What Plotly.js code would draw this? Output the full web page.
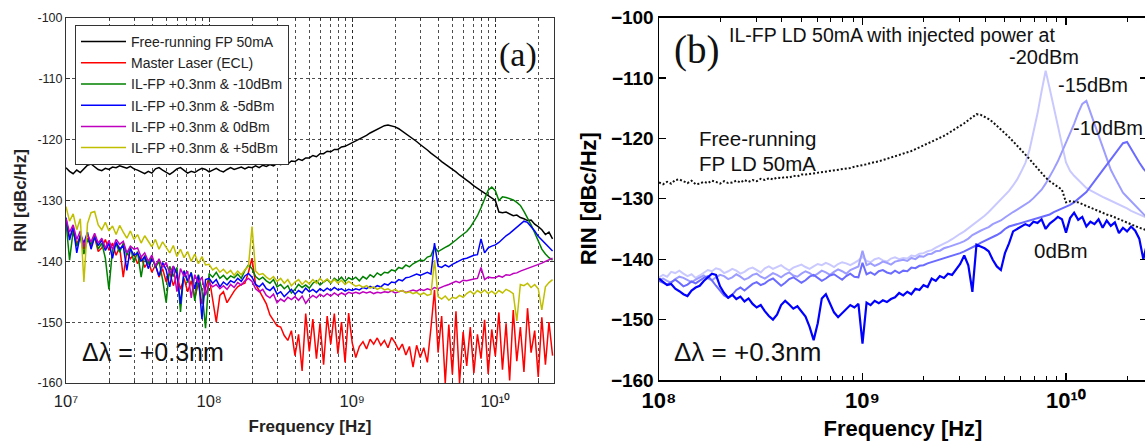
<!DOCTYPE html>
<html>
<head>
<meta charset="utf-8">
<script src="https://cdn.plot.ly/plotly-3.0.1.min.js"></script>
<style>
html,body{margin:0;padding:0;overflow:hidden;background:#ffffff;}
#chart{width:1150px;height:443px;}
</style>
</head>
<body>
<div id="chart"></div>
<script>
// ---------------- Panel (a) data ----------------
const freqA = [
1e7,1.059e7,1.122e7,1.189e7,1.259e7,1.334e7,1.413e7,1.496e7,1.585e7,1.679e7,1.778e7,1.884e7,1.995e7,2.113e7,2.239e7,2.371e7,2.512e7,2.661e7,2.818e7,2.985e7,3.162e7,3.350e7,3.548e7,3.758e7,3.981e7,4.217e7,4.467e7,4.732e7,5.012e7,5.309e7,5.623e7,5.957e7,6.310e7,6.683e7,7.079e7,7.499e7,7.943e7,8.414e7,8.913e7,9.441e7,
1e8,1.059e8,1.122e8,1.189e8,1.259e8,1.334e8,1.413e8,1.496e8,1.585e8,1.679e8,1.778e8,1.884e8,1.995e8,2.113e8,2.239e8,2.371e8,2.512e8,2.661e8,2.818e8,2.985e8,3.162e8,3.350e8,3.548e8,3.758e8,3.981e8,4.217e8,4.467e8,4.732e8,5.012e8,5.309e8,5.623e8,5.957e8,6.310e8,6.683e8,7.079e8,7.499e8,7.943e8,8.414e8,8.913e8,9.441e8,
1e9,1.059e9,1.122e9,1.189e9,1.259e9,1.334e9,1.413e9,1.496e9,1.585e9,1.679e9,1.778e9,1.884e9,1.995e9,2.113e9,2.239e9,2.371e9,2.512e9,2.661e9,2.818e9,2.985e9,3.162e9,3.350e9,3.548e9,3.758e9,3.981e9,4.217e9,4.467e9,4.732e9,5.012e9,5.309e9,5.623e9,5.957e9,6.310e9,6.683e9,7.079e9,7.499e9,7.943e9,8.414e9,8.913e9,9.441e9,
1e10,1.059e10,1.122e10,1.189e10,1.259e10,1.334e10,1.413e10,1.496e10,1.585e10,1.679e10,1.778e10,1.884e10,1.995e10,2.113e10,2.239e10,2.371e10,2.512e10
];
const rinFreeRunningA = [
-124.6,-125.2,-125.6,-125.0,-125.4,-124.8,-124.2,-124.0,-124.4,-124.9,
-125.1,-124.7,-124.9,-124.5,-124.6,-124.3,-124.5,-124.7,-124.4,-124.8,
-125.0,-125.3,-125.6,-125.2,-125.5,-124.8,-124.6,-125.0,-125.4,-125.7,
-125.3,-124.8,-124.6,-125.1,-125.5,-125.2,-125.4,-125.0,-124.7,-124.9,
-125.3,-125.0,-124.7,-125.1,-125.3,-124.9,-124.6,-124.9,-124.7,-124.5,
-124.8,-124.5,-124.6,-124.3,-124.6,-124.2,-124.4,-124.1,-124.3,-123.9,
-124.1,-123.8,-124.0,-123.5,-123.6,-123.2,-123.4,-123.0,-123.0,-122.6,
-122.8,-122.3,-122.3,-121.9,-122.0,-121.6,-121.6,-121.2,-121.1,-120.8,
-120.6,-120.2,-119.9,-119.6,-119.3,-118.9,-118.6,-118.3,-118.0,-117.7,
-117.6,-117.7,-117.9,-118.2,-118.6,-119.0,-119.4,-119.8,-120.3,-120.8,
-121.2,-121.7,-122.2,-122.6,-123.1,-123.6,-124.0,-124.5,-124.9,-125.3,
-125.8,-126.2,-126.7,-127.1,-127.6,-128.0,-128.4,-128.8,-129.3,-129.6,
-130.0,-131.9,-132.0,-131.9,-132.2,-132.5,-132.4,-132.8,-133.0,-133.3,
-133.2,-133.9,-134.3,-134.8,-135.6,-135.2,-136.3
];
const rinMasterEclA = [
-133.6,-136.0,-134.8,-137.2,-135.8,-138.0,-136.2,-137.6,-136.0,-138.4,
-137.8,-136.4,-138.2,-137.0,-139.0,-137.6,-142.6,-138.4,-139.6,-138.8,
-140.4,-139.2,-141.0,-140.0,-141.8,-140.6,-142.6,-141.2,-143.4,-141.8,
-144.0,-142.2,-144.6,-142.8,-145.0,-143.2,-146.0,-143.6,-147.0,-144.4,
-142.6,-146.4,-150.0,-145.6,-145.0,-146.8,-145.8,-144.9,-144.2,-143.8,
-143.6,-141.8,-139.5,-143.8,-144.8,-146.0,-147.0,-148.8,-149.8,-150.6,
-150.8,-152.2,-153.0,-151.4,-155.5,-152.0,-158.0,-148.6,-154.8,-149.5,
-156.0,-150.2,-157.0,-149.0,-153.6,-148.6,-155.2,-150.0,-156.6,-148.5,
-153.4,-155.8,-154.0,-153.2,-154.4,-152.8,-153.6,-152.6,-153.8,-153.0,
-154.2,-152.5,-153.4,-154.6,-153.6,-155.4,-154.0,-157.4,-153.8,-155.8,
-154.2,-156.6,-151.0,-144.7,-155.0,-149.0,-160.0,-150.4,-158.6,-148.2,
-160.0,-151.6,-157.2,-150.8,-158.4,-152.0,-156.0,-149.6,-158.5,-151.2,
-155.6,-148.4,-157.8,-150.2,-159.6,-148.0,-156.4,-150.8,-158.2,-147.7,
-155.0,-151.4,-159.0,-149.2,-157.0,-150.0,-155.5
];
const rinM10dBmA = [
-133.5,-139.8,-135.0,-137.5,-136.0,-138.8,-136.4,-137.2,-135.8,-138.0,
-137.0,-139.5,-144.6,-138.0,-137.2,-138.5,-137.0,-139.0,-137.6,-140.2,
-138.4,-142.6,-139.0,-140.5,-139.2,-141.0,-140.0,-143.0,-146.8,-140.8,
-142.5,-141.0,-148.3,-141.5,-143.5,-141.8,-146.5,-142.2,-144.8,-151.0,
-142.0,-142.6,-141.8,-142.8,-142.3,-143.0,-142.4,-142.7,-142.1,-142.8,
-141.5,-140.6,-141.2,-142.5,-143.0,-142.6,-143.2,-143.6,-143.0,-144.2,
-143.8,-144.5,-144.0,-145.2,-144.6,-143.8,-144.3,-143.9,-144.4,-143.6,
-143.2,-143.9,-143.4,-143.0,-143.6,-142.8,-143.2,-142.6,-143.3,-142.7,
-143.0,-142.6,-143.2,-142.5,-142.9,-142.2,-142.6,-141.9,-142.3,-141.8,
-141.9,-141.4,-141.6,-141.0,-141.2,-140.6,-140.9,-140.4,-140.1,-139.8,
-139.9,-139.3,-139.1,-137.6,-138.4,-138.0,-137.7,-137.4,-137.0,-136.5,
-136.0,-135.6,-135.1,-134.4,-133.5,-132.5,-131.2,-129.8,-128.3,-127.8,
-128.4,-130.0,-129.4,-129.5,-129.7,-129.9,-130.3,-130.8,-131.8,-132.8,
-134.0,-135.3,-136.8,-138.0,-138.8,-139.4,-139.8
];
const rinM5dBmA = [
-132.8,-136.5,-134.2,-138.6,-135.6,-137.0,-135.2,-138.0,-136.0,-137.4,
-136.5,-138.2,-137.0,-139.5,-136.8,-138.0,-137.4,-141.5,-137.9,-139.0,
-138.6,-140.0,-139.2,-141.2,-139.6,-140.6,-142.4,-140.2,-141.4,-144.2,
-140.8,-142.0,-147.0,-141.6,-143.2,-141.9,-144.5,-142.3,-149.5,-143.0,
-142.8,-143.6,-143.0,-144.2,-143.4,-143.9,-143.2,-143.5,-142.8,-143.3,
-142.4,-142.0,-142.6,-143.8,-144.2,-143.6,-144.5,-144.8,-144.2,-145.4,
-145.0,-145.8,-145.2,-144.6,-145.4,-144.8,-145.2,-144.4,-145.0,-144.6,
-145.1,-144.5,-144.9,-144.4,-144.8,-144.3,-144.7,-144.5,-144.9,-144.6,
-144.8,-144.5,-144.7,-144.3,-144.5,-144.1,-144.4,-144.0,-144.2,-143.7,
-143.9,-143.4,-143.5,-143.0,-143.2,-142.7,-142.6,-142.4,-142.1,-142.3,
-142.0,-141.8,-142.1,-137.0,-140.8,-141.0,-140.6,-140.9,-140.5,-140.2,
-140.0,-139.6,-139.5,-139.2,-139.0,-138.9,-136.3,-138.6,-137.8,-137.5,
-137.3,-136.9,-136.3,-135.8,-135.4,-134.9,-134.4,-133.9,-133.4,-133.6,
-134.3,-135.0,-135.9,-136.5,-137.1,-137.7,-138.3
];
const rin0dBmA = [
-133.0,-135.2,-134.0,-136.4,-135.0,-137.6,-135.6,-136.8,-135.4,-137.0,
-136.2,-137.8,-136.6,-138.0,-136.4,-137.2,-136.7,-138.6,-137.5,-138.0,
-137.8,-139.3,-138.6,-140.0,-139.0,-140.8,-139.6,-141.0,-140.2,-142.0,
-140.8,-145.0,-141.2,-142.5,-141.6,-146.0,-142.2,-143.5,-142.6,-145.6,
-143.6,-144.2,-143.8,-144.5,-144.0,-144.6,-143.8,-144.3,-143.5,-143.9,
-143.2,-142.8,-143.3,-144.5,-145.0,-144.6,-145.6,-146.0,-145.4,-146.8,
-146.2,-146.6,-145.9,-146.3,-145.8,-146.4,-145.7,-146.9,-146.1,-145.6,
-146.0,-145.4,-145.8,-145.3,-145.7,-145.2,-145.6,-145.2,-145.5,-145.1,
-145.3,-145.1,-145.3,-145.0,-145.2,-145.0,-145.3,-145.1,-145.2,-145.0,
-145.1,-144.9,-145.2,-145.0,-144.8,-145.1,-144.9,-144.7,-144.9,-144.6,
-144.8,-144.5,-144.7,-144.3,-144.5,-144.2,-144.0,-143.8,-143.6,-143.3,
-143.5,-143.1,-143.2,-143.0,-142.9,-142.8,-141.0,-143.0,-142.6,-142.7,
-142.7,-142.4,-142.6,-142.2,-142.3,-142.0,-141.9,-141.6,-141.4,-141.2,
-141.0,-140.8,-140.6,-140.3,-140.0,-139.8,-139.5
];
const rinP5dBmA = [
-131.0,-133.4,-132.2,-134.8,-133.0,-143.4,-133.8,-132.0,-131.8,-134.0,
-134.8,-133.6,-135.0,-134.2,-135.6,-134.1,-135.2,-136.2,-135.0,-136.4,
-135.6,-137.0,-135.8,-136.6,-137.6,-136.4,-138.0,-136.8,-137.8,-138.6,
-137.4,-139.2,-138.0,-139.4,-138.4,-140.0,-138.8,-140.4,-139.2,-140.6,
-140.5,-141.4,-141.0,-141.8,-141.3,-142.0,-141.5,-142.3,-141.6,-142.2,
-141.4,-140.8,-134.3,-141.6,-142.2,-142.0,-142.6,-143.0,-142.5,-143.3,
-142.8,-143.6,-143.0,-144.0,-143.4,-143.0,-143.8,-143.2,-143.7,-143.0,
-143.6,-142.8,-143.4,-142.9,-143.5,-143.0,-143.6,-143.1,-143.8,-143.3,
-143.7,-144.1,-143.9,-144.3,-144.0,-144.4,-144.2,-144.6,-144.3,-144.7,
-144.5,-144.9,-144.6,-145.0,-144.8,-145.2,-145.0,-145.3,-145.1,-145.5,
-145.2,-145.6,-145.4,-139.8,-145.8,-146.2,-145.7,-146.4,-145.9,-146.1,
-145.6,-145.9,-145.3,-144.9,-145.4,-144.8,-145.2,-144.7,-145.3,-144.9,
-145.4,-144.8,-145.2,-144.6,-144.9,-145.3,-149.8,-143.8,-144.0,-143.6,
-144.3,-143.8,-144.5,-148.0,-144.2,-143.5,-143.0
];
const seriesNamesA = [
"Free-running FP 50mA",
"Master Laser (ECL)",
"IL-FP +0.3nm & -10dBm",
"IL-FP +0.3nm & -5dBm",
"IL-FP +0.3nm & 0dBm",
"IL-FP +0.3nm & +5dBm"
];

// ---------------- Panel (b) data ----------------
const freqB = [
1e8,1.047e8,1.096e8,1.148e8,1.202e8,1.259e8,1.318e8,1.380e8,1.445e8,1.514e8,1.585e8,1.660e8,1.738e8,1.820e8,1.905e8,1.995e8,2.089e8,2.188e8,2.291e8,2.399e8,2.512e8,2.630e8,2.754e8,2.884e8,3.020e8,3.162e8,3.311e8,3.467e8,3.631e8,3.802e8,3.981e8,4.169e8,4.365e8,4.571e8,4.786e8,5.012e8,5.248e8,5.495e8,5.754e8,6.026e8,6.310e8,6.607e8,6.918e8,7.244e8,7.586e8,7.943e8,8.318e8,8.710e8,9.120e8,9.550e8,
1e9,1.047e9,1.096e9,1.148e9,1.202e9,1.259e9,1.318e9,1.380e9,1.445e9,1.514e9,1.585e9,1.660e9,1.738e9,1.820e9,1.905e9,1.995e9,2.089e9,2.188e9,2.291e9,2.399e9,2.512e9,2.630e9,2.754e9,2.884e9,3.020e9,3.162e9,3.311e9,3.467e9,3.631e9,3.802e9,3.981e9,4.169e9,4.365e9,4.571e9,4.786e9,5.012e9,5.248e9,5.495e9,5.754e9,6.026e9,6.310e9,6.607e9,6.918e9,7.244e9,7.586e9,7.943e9,8.318e9,8.710e9,9.120e9,9.550e9,
1e10,1.047e10,1.096e10,1.148e10,1.202e10,1.259e10,1.318e10,1.380e10,1.445e10,1.514e10,1.585e10,1.660e10,1.738e10,1.820e10,1.905e10,1.995e10,2.089e10,2.188e10,2.291e10,2.399e10,2.512e10
];
const rinFreeRunningB = [
-127.3,-127.6,-127.2,-127.5,-126.9,-126.8,-127.1,-127.4,-127.0,-127.6,
-127.5,-127.2,-127.4,-127.0,-127.2,-127.5,-127.1,-127.4,-127.3,-127.0,
-127.3,-126.9,-127.2,-126.9,-127.1,-126.7,-126.9,-126.6,-126.8,-126.5,
-126.6,-126.4,-126.5,-126.2,-126.3,-126.0,-126.0,-125.9,-125.8,-125.8,
-125.6,-125.6,-125.4,-125.4,-125.2,-125.1,-125.0,-124.9,-124.7,-124.6,
-124.5,-124.3,-124.1,-124.0,-123.8,-123.6,-123.4,-123.2,-123.0,-122.8,
-122.6,-122.3,-122.1,-121.8,-121.5,-121.2,-120.9,-120.6,-120.2,-119.9,
-119.6,-119.2,-118.8,-118.4,-118.0,-117.5,-117.0,-116.5,-116.0,-116.1,
-116.4,-116.8,-117.3,-117.9,-118.5,-119.1,-119.8,-120.5,-121.2,-121.9,
-122.6,-123.4,-124.2,-125.0,-125.8,-126.5,-127.1,-127.6,-128.1,-128.5,
-130.6,-130.4,-130.5,-130.6,-130.9,-131.2,-131.5,-131.8,-132.1,-132.4,
-132.6,-132.8,-133.1,-133.4,-133.7,-134.0,-134.2,-134.5,-134.8,-135.0,
-135.3
];
const rinInjM20dBmB = [
-143.0,-142.6,-142.9,-142.1,-142.3,-141.9,-142.4,-142.8,-142.5,-143.1,
-142.7,-142.2,-141.8,-142.0,-141.5,-141.7,-142.3,-142.0,-141.6,-141.9,
-142.4,-142.1,-141.6,-141.4,-141.8,-142.2,-141.5,-141.2,-141.6,-141.3,
-141.0,-141.5,-141.9,-141.4,-141.1,-140.9,-141.3,-141.6,-141.2,-140.8,
-141.0,-140.6,-140.9,-141.3,-140.8,-140.5,-140.7,-141.0,-140.6,-140.2,
-139.6,-140.3,-140.5,-140.0,-139.8,-140.2,-140.4,-139.9,-139.7,-140.0,
-139.8,-139.9,-139.4,-139.5,-139.1,-139.0,-138.7,-138.5,-138.1,-137.8,
-137.5,-137.1,-136.7,-136.2,-135.8,-135.4,-134.9,-134.4,-133.9,-133.4,
-132.8,-132.2,-131.5,-130.8,-130.1,-129.4,-128.7,-127.8,-126.8,-125.5,
-124.1,-122.0,-119.2,-115.9,-112.2,-108.8,-111.8,-115.0,-118.2,-121.0,
-124.0,-125.4,-126.2,-126.9,-127.5,-128.2,-128.6,-129.0,-129.4,-129.7,
-130.0,-130.3,-130.6,-130.9,-131.2,-131.6,-132.0,-132.3,-132.6,-132.9,
-133.2
];
const rinInjM15dBmB = [
-143.4,-143.2,-143.6,-143.9,-143.3,-142.9,-143.1,-143.5,-143.8,-143.4,
-143.0,-142.7,-143.2,-143.5,-143.0,-142.6,-142.8,-143.3,-143.0,-142.5,
-142.9,-143.4,-143.1,-142.6,-142.4,-142.9,-143.2,-142.7,-142.3,-142.6,
-143.0,-142.5,-142.2,-142.7,-142.9,-142.4,-142.0,-142.3,-142.8,-142.4,
-141.9,-142.2,-142.6,-142.1,-141.7,-142.0,-142.4,-141.8,-141.5,-141.2,
-138.6,-141.0,-140.7,-141.1,-140.8,-140.4,-140.6,-140.9,-140.4,-140.2,
-140.1,-140.3,-139.8,-140.0,-139.5,-139.6,-139.2,-139.1,-138.7,-138.6,
-138.2,-138.0,-137.8,-137.5,-137.3,-137.0,-136.6,-136.0,-135.6,-135.3,
-135.0,-134.7,-134.2,-133.9,-133.6,-133.1,-132.6,-132.2,-131.8,-131.4,
-131.0,-130.5,-129.9,-129.2,-128.5,-127.5,-126.4,-125.1,-123.8,-122.3,
-120.8,-119.2,-117.6,-115.8,-114.3,-113.8,-115.6,-117.4,-119.5,-121.4,
-123.4,-125.2,-126.5,-127.8,-129.0,-129.7,-130.4,-131.0,-131.8,-132.4,
-133.2
];
const rinInjM10dBmB = [
-143.6,-143.9,-144.2,-143.8,-143.4,-143.9,-144.5,-144.2,-143.7,-144.0,
-143.5,-143.1,-142.8,-143.5,-144.4,-145.3,-146.0,-146.4,-145.9,-145.1,
-144.7,-145.2,-144.6,-144.1,-143.8,-144.3,-144.0,-143.5,-143.2,-143.8,
-144.4,-143.9,-143.3,-143.0,-143.4,-143.9,-143.5,-142.9,-142.6,-143.1,
-143.6,-143.2,-142.7,-142.5,-143.0,-143.4,-142.8,-142.4,-142.9,-143.0,
-140.6,-142.5,-142.2,-142.6,-142.0,-141.8,-142.2,-142.4,-141.9,-142.3,
-141.9,-142.0,-141.4,-141.5,-141.1,-141.0,-140.7,-140.5,-140.3,-140.1,
-139.9,-139.6,-139.4,-139.2,-139.0,-138.7,-138.4,-138.1,-137.7,-137.3,
-137.0,-136.6,-136.3,-136.0,-135.6,-135.0,-134.6,-134.4,-134.2,-134.0,
-133.9,-133.7,-133.5,-133.3,-133.1,-132.9,-132.6,-132.2,-131.9,-131.6,
-131.4,-131.0,-130.6,-130.0,-129.5,-128.9,-128.0,-127.1,-126.2,-125.3,
-124.3,-123.5,-122.6,-121.7,-120.8,-120.6,-121.8,-123.0,-124.0,-125.0,
-125.8
];
const rinInj0dBmB = [
-143.2,-143.8,-144.3,-144.1,-144.9,-145.3,-145.8,-146.1,-145.2,-144.7,
-144.4,-143.6,-143.0,-142.4,-142.6,-144.5,-145.6,-146.4,-145.9,-146.6,
-146.2,-147.0,-146.5,-147.4,-148.0,-147.6,-148.6,-149.4,-150.0,-149.2,
-147.6,-146.9,-147.5,-148.2,-147.8,-148.6,-149.5,-151.2,-153.4,-150.6,
-146.5,-145.8,-147.4,-148.8,-149.6,-148.9,-148.2,-147.6,-148.0,-147.4,
-154.0,-147.2,-147.6,-146.9,-147.3,-146.8,-147.1,-146.6,-146.3,-145.6,
-146.0,-145.4,-145.8,-144.9,-145.1,-144.3,-144.6,-143.2,-143.6,-142.8,
-143.1,-142.4,-142.6,-141.6,-140.8,-139.4,-141.0,-145.4,-137.6,-137.9,
-138.2,-138.7,-140.1,-141.2,-141.8,-139.0,-137.4,-135.4,-135.0,-134.6,
-134.2,-134.5,-133.8,-134.0,-133.4,-135.0,-134.1,-133.6,-133.0,-133.4,
-135.6,-133.2,-132.3,-133.5,-133.0,-134.6,-133.8,-134.2,-133.4,-134.8,
-133.6,-134.5,-133.9,-135.7,-134.8,-135.4,-134.6,-135.3,-136.6,-140.0,
-137.2
];
// Tick values and labels
const yTickValsA = [-160,-150,-140,-130,-120,-110,-100];
const yTickTextA = ["-160","-150","-140","-130","-120","-110","-100"];
const xTickValsA = [1e7,1e8,1e9,1e10];
const xTickTextA = ["10\u2077","10\u2078","10\u2079","10\u00b9\u2070"];
const xTickValsB = [1e8,1e9,1e10];
const xTickTextB = ["10\u2078","10\u2079","10\u00b9\u2070"];

// ---------------- Layout helpers (pixel -> paper) ----------------
const W = 1150, H = 443;
const px = v => v / W;
const py = v => 1 - v / H;

const colorsA = ["#000000","#ff0000","#008000","#0000ff","#bf00bf","#bfbf00"];
const seriesA = [rinFreeRunningA, rinMasterEclA, rinM10dBmA, rinM5dBmA, rin0dBmA, rinP5dBmA];

const traces = [];
seriesA.forEach((ys, i) => {
  traces.push({
    type: "scatter", mode: "lines", x: freqA, y: ys,
    name: seriesNamesA[i], xaxis: "x", yaxis: "y",
    line: {color: colorsA[i], width: 1.5},
    showlegend: true, hoverinfo: "skip"
  });
});

const seriesB = [
  {y: rinInjM20dBmB, c: "#c9c9ff", w: 2},
  {y: rinInjM15dBmB, c: "#9d9dff", w: 2},
  {y: rinInjM10dBmB, c: "#6b6bff", w: 2},
  {y: rinInj0dBmB,  c: "#0000ff", w: 2.2}
];
seriesB.forEach(s => {
  traces.push({
    type: "scatter", mode: "lines", x: freqB, y: s.y, xaxis: "x2", yaxis: "y2",
    line: {color: s.c, width: s.w}, showlegend: false, hoverinfo: "skip"
  });
});
traces.push({
  type: "scatter", mode: "lines", x: freqB, y: rinFreeRunningB, xaxis: "x2", yaxis: "y2",
  line: {color: "#111111", width: 2, dash: "2px,2px"}, showlegend: false, hoverinfo: "skip"
});

const sans = "Arial, 'Liberation Sans', sans-serif";
const serif = "'Times New Roman', 'Liberation Serif', serif";
const gridDash = "3px,3px";

const layout = {
  width: W, height: H,
  margin: {l: 0, r: 0, t: 0, b: 0, pad: 0},
  paper_bgcolor: "#ffffff", plot_bgcolor: "#ffffff",
  showlegend: true,
  legend: {
    x: px(75), y: py(25), xanchor: "left", yanchor: "top",
    bgcolor: "#ffffff", bordercolor: "#333333", borderwidth: 1,
    font: {family: sans, size: 14, color: "#222222"},
    tracegroupgap: 0, itemwidth: 45
  },
  xaxis: {
    domain: [px(66), px(554)], anchor: "y", type: "log", range: [7, 10.41],
    showline: true, linecolor: "#333333", linewidth: 1, mirror: "ticks",
    ticks: "inside", ticklen: 4, tickcolor: "#333333",
    tickvals: xTickValsA, ticktext: xTickTextA, ticklabelstandoff: 3,
    showgrid: true, gridcolor: "#222222", gridwidth: 0.8, griddash: gridDash,
    minor: {dtick: "D1", ticks: "inside", ticklen: 2, tickcolor: "#333333",
            showgrid: true, gridcolor: "#222222", gridwidth: 0.8, griddash: gridDash},
    zeroline: false,
    tickfont: {family: sans, size: 16.5, color: "#222222"},
    title: {text: "Frequency [Hz]", font: {family: sans, size: 17, weight: "bold", color: "#222222"}, standoff: 11}
  },
  yaxis: {
    domain: [py(383), py(18)], anchor: "x", range: [-160, -100],
    tickvals: yTickValsA, ticktext: yTickTextA,
    showline: true, linecolor: "#333333", linewidth: 1, mirror: "ticks",
    ticks: "inside", ticklen: 4, tickcolor: "#333333",
    showgrid: true, gridcolor: "#222222", gridwidth: 0.8, griddash: gridDash,
    zeroline: false,
    tickfont: {family: sans, size: 12.5, color: "#222222"},
    title: {text: "RIN [dBc/Hz]", font: {family: sans, size: 17, weight: "bold", color: "#222222"}, standoff: 6}
  },
  xaxis2: {
    domain: [px(659), px(1147)], anchor: "y2", type: "log", range: [8, 10.398],
    showline: true, linecolor: "#000000", linewidth: 1.5, mirror: "ticks",
    ticks: "inside", ticklen: 7, tickwidth: 1.2, tickcolor: "#000000",
    tickvals: xTickValsB, ticktext: xTickTextB,
    showgrid: false, zeroline: false,
    minor: {dtick: "D1", ticks: "inside", ticklen: 4, tickwidth: 1, tickcolor: "#000000", showgrid: false},
    tickfont: {family: sans, size: 22, weight: "bold", color: "#000000"},
    title: {text: "Frequency [Hz]", font: {family: sans, size: 22, weight: "bold", color: "#000000"}, standoff: 8}
  },
  yaxis2: {
    domain: [py(380), py(17.5)], anchor: "x2", range: [-160, -100], dtick: 10,
    showline: true, linecolor: "#000000", linewidth: 1.5, mirror: "ticks",
    ticks: "inside", ticklen: 7, tickwidth: 1.2, tickcolor: "#000000",
    showgrid: false, zeroline: false,
    tickfont: {family: sans, size: 19, weight: "bold", color: "#000000"},
    title: {text: "RIN [dBc/Hz]", font: {family: sans, size: 22, weight: "bold", color: "#000000"}, standoff: 8}
  },
  annotations: [
    {text: "(a)", xref: "paper", yref: "paper", x: px(518), y: py(55), xanchor: "center", yanchor: "middle",
     showarrow: false, font: {family: serif, size: 34, color: "#111111"}},
    {text: "\u0394\u03bb = +0.3nm", xref: "paper", yref: "paper", x: px(80), y: py(352), xanchor: "left", yanchor: "middle",
     showarrow: false, font: {family: sans, size: 25, color: "#111111"}},
    {text: "(b)", xref: "paper", yref: "paper", x: px(696), y: py(50), xanchor: "center", yanchor: "middle",
     showarrow: false, font: {family: serif, size: 39, color: "#111111"}},
    {text: "IL-FP LD 50mA with injected power at", xref: "paper", yref: "paper", x: px(727), y: py(35), xanchor: "left", yanchor: "middle",
     showarrow: false, font: {family: sans, size: 19.5, color: "#111111"}},
    {text: "-20dBm", xref: "paper", yref: "paper", x: px(1081), y: py(57), xanchor: "right", yanchor: "middle",
     showarrow: false, font: {family: sans, size: 20, color: "#111111"}},
    {text: "-15dBm", xref: "paper", yref: "paper", x: px(1056), y: py(85), xanchor: "left", yanchor: "middle",
     showarrow: false, font: {family: sans, size: 20, color: "#111111"}},
    {text: "-10dBm", xref: "paper", yref: "paper", x: px(1071), y: py(128), xanchor: "left", yanchor: "middle",
     showarrow: false, font: {family: sans, size: 20, color: "#111111"}},
    {text: "0dBm", xref: "paper", yref: "paper", x: px(1032), y: py(250), xanchor: "left", yanchor: "middle",
     showarrow: false, font: {family: sans, size: 20.5, color: "#111111"}},
    {text: "Free-running", xref: "paper", yref: "paper", x: px(697), y: py(138), xanchor: "left", yanchor: "middle",
     showarrow: false, font: {family: sans, size: 20.5, color: "#111111"}},
    {text: "FP LD 50mA", xref: "paper", yref: "paper", x: px(697), y: py(163), xanchor: "left", yanchor: "middle",
     showarrow: false, font: {family: sans, size: 20.5, color: "#111111"}},
    {text: "\u0394\u03bb = +0.3nm", xref: "paper", yref: "paper", x: px(672), y: py(352), xanchor: "left", yanchor: "middle",
     showarrow: false, font: {family: sans, size: 26, color: "#111111"}}
  ]
};

Plotly.newPlot("chart", traces, layout, {displayModeBar: false, staticPlot: true});
</script>
</body>
</html>
